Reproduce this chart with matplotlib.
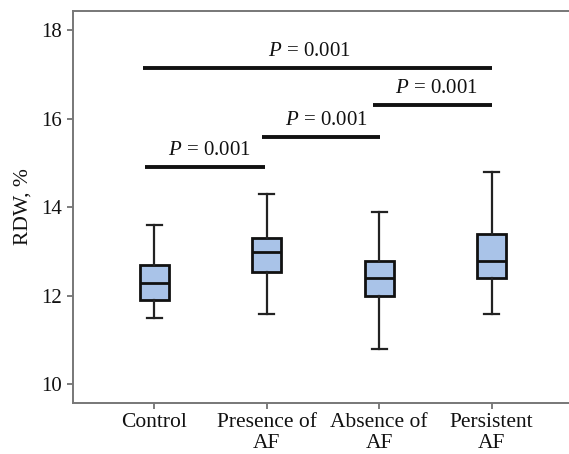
import matplotlib
matplotlib.use("Agg")
import matplotlib.pyplot as plt

plt.rcParams['font.family'] = ['Liberation Serif', 'DejaVu Serif']
plt.rcParams['mathtext.fontset'] = 'custom'
plt.rcParams['mathtext.rm'] = 'Liberation Serif'
plt.rcParams['mathtext.it'] = 'Liberation Serif:italic'

categories = ["Control", "Presence of\nAF", "Absence of\nAF", "Persistent\nAF"]
whisker_low = [11.5, 11.6, 10.8, 11.6]
q1 = [11.9, 12.55, 12.0, 12.4]
median = [12.3, 13.0, 12.4, 12.8]
q3 = [12.7, 13.3, 12.8, 13.4]
whisker_high = [13.6, 14.3, 13.9, 14.8]

# significance brackets: (start group, end group, height, label)
bracket_start = [0.92, 1.955, 2.94, 0.90]
bracket_end = [1.985, 3.01, 4.0, 4.0]
bracket_y = [14.92, 15.6, 16.32, 17.16]
bracket_label = ["0.001", "0.001", "0.001", "0.001"]
label_shift = [0.04, 0.05, 0.035, -0.07]

fig = plt.figure(figsize=(5.69, 4.54), dpi=100)
ax = fig.add_axes([73/569, 1 - 403/454, 1 - 73/569, (403 - 11)/454])

stats = []
for i in range(len(categories)):
    stats.append(dict(whislo=whisker_low[i], q1=q1[i], med=median[i],
                      q3=q3[i], whishi=whisker_high[i], fliers=[]))

positions = list(range(1, len(categories) + 1))
ax.bxp(stats, positions=positions, widths=0.26, capwidths=0.13,
       patch_artist=True, showfliers=False,
       boxprops=dict(facecolor="#A9C3E8", edgecolor="#111111", linewidth=2.0),
       medianprops=dict(color="#111111", linewidth=2.0),
       whiskerprops=dict(color="#222222", linewidth=1.6),
       capprops=dict(color="#222222", linewidth=1.6))

for xs, xe, y, lab, sh in zip(bracket_start, bracket_end, bracket_y, bracket_label, label_shift):
    ax.plot([xs, xe], [y, y], color="#111111", linewidth=2.8, solid_capstyle="butt")
    ax.text((xs + xe) / 2 + sh, y + 0.15, "$P$ = " + lab, ha="center", va="bottom",
            fontsize=15, color="#111111")

ax.set_xlim(0.277, 4.687)
ax.set_ylim(9.58, 18.44)
ax.set_yticks([10, 12, 14, 16, 18])
ax.set_xticks(positions)
ax.set_xticklabels(categories, linespacing=1.15)
ax.tick_params(axis="both", colors="#111111", length=4, width=1.2,
               color="#666666", direction="out")
ax.tick_params(axis="x", labelsize=15.5, pad=3)
ax.tick_params(axis="y", labelsize=15, pad=4)
ax.set_ylabel("RDW, %", fontsize=15.5, color="#111111", labelpad=6)

for s in ["left", "bottom", "top"]:
    ax.spines[s].set_color("#777777")
    ax.spines[s].set_linewidth(1.4)
ax.spines["right"].set_visible(False)

fig.savefig("out.png", dpi=100)
